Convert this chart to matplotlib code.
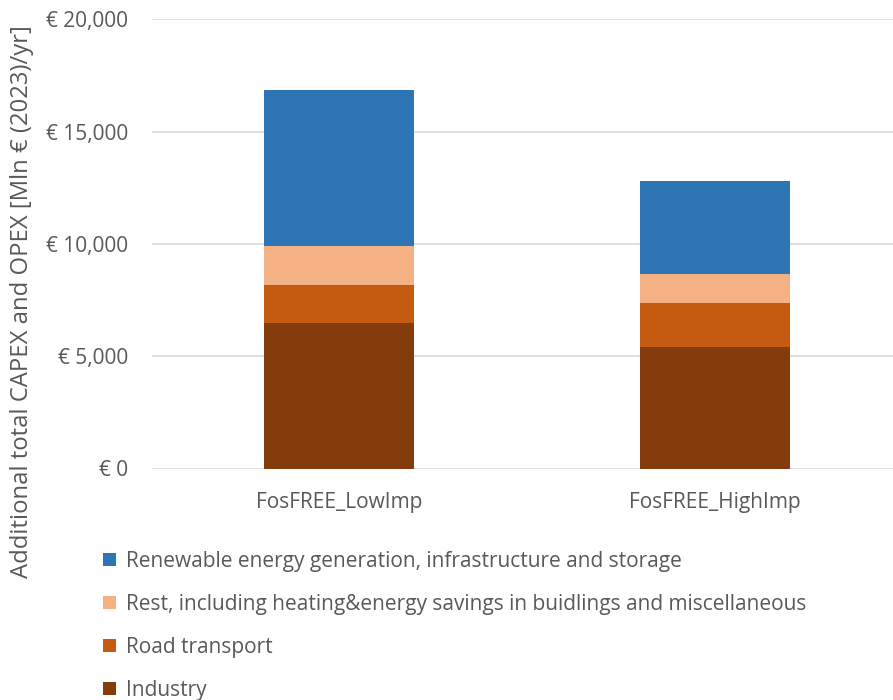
import matplotlib.pyplot as plt
from matplotlib.patches import Patch
from matplotlib.ticker import FuncFormatter

# data (Mln € 2023 / yr)
scenarios = ['FosFREE_LowImp', 'FosFREE_HighImp']
industry = [6490, 5400]
road_transport = [1670, 1960]
rest = [1760, 1300]
renewable = [6920, 4140]

series_names = [
    'Industry',
    'Road transport',
    'Rest, including heating&energy savings in buidlings and miscellaneous',
    'Renewable energy generation, infrastructure and storage',
]
series_values = [industry, road_transport, rest, renewable]
colors = ['#843C0C', '#C55A11', '#F4B183', '#2E75B6']

text_color = '#595959'
fs = 15
plt.rcParams['font.family'] = ['Open Sans', 'DejaVu Sans']

fig = plt.figure(figsize=(8.93, 7), dpi=100)
ax = fig.add_axes([151.7 / 893, (700 - 468.5) / 700, 1 - 151.7 / 893, (468.5 - 19.4) / 700])

x = list(range(len(scenarios)))
bottom = [0] * len(scenarios)
for name, vals, c in zip(series_names, series_values, colors):
    ax.bar(x, vals, width=0.4, bottom=bottom, color=c, label=name, zorder=3)
    bottom = [b + v for b, v in zip(bottom, vals)]

ax.set_ylim(0, 20000)
ax.set_xlim(-0.4985, 1.4746)
ax.set_yticks(range(0, 20001, 5000))
ax.yaxis.set_major_formatter(FuncFormatter(lambda v, p: '€ {:,.0f}'.format(v)))
ax.set_xticks(x)
ax.set_xticklabels(scenarios)

ax.grid(axis='y', color='#D9D9D9', linewidth=1.2, zorder=0)
for s in ax.spines.values():
    s.set_visible(False)
ax.tick_params(axis='both', length=0, colors=text_color, labelsize=fs)
ax.tick_params(axis='y', pad=17)
ax.tick_params(axis='x', pad=17)

fig.text(0.025, (700 - 302) / 700, 'Additional total CAPEX and OPEX [Mln € (2023)/yr]',
         rotation=90, ha='center', va='center', fontsize=17.2, color=text_color)

handles = [Patch(facecolor=c) for c in colors][::-1]
labels = series_names[::-1]
fig.legend(handles, labels, loc='upper left', bbox_to_anchor=(103 / 893, 1 - 551 / 700),
           frameon=False, fontsize=fs, labelcolor=text_color,
           handlelength=0.6, handleheight=0.6, handletextpad=0.5, labelspacing=1.05,
           borderaxespad=0, borderpad=0)

fig.savefig('out.png', dpi=100)
